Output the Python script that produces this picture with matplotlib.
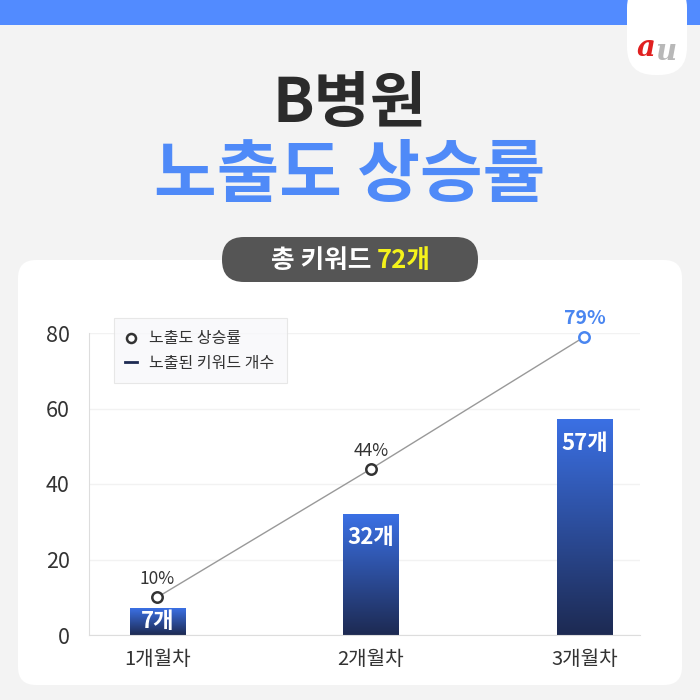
import numpy as np
import matplotlib.pyplot as plt
from matplotlib.patches import FancyBboxPatch, Rectangle
from matplotlib.lines import Line2D
from matplotlib.colors import LinearSegmentedColormap

plt.rcParams['font.family'] = ['Noto Sans CJK KR', 'DejaVu Sans']

# data
months = ['1개월차', '2개월차', '3개월차']
keywords = [7, 32, 57]          # 노출된 키워드 개수
rate = [10, 44, 79]             # 노출도 상승률 (%)
total_kw = 72
yticks = [0, 20, 40, 60, 80]

fig = plt.figure(figsize=(7, 7), dpi=100)
fig.patch.set_facecolor('#f3f3f3')

def fpatch(x, y, w, h, color, r=0.0):
    # box in pixel coords (top-left origin) -> figure fraction
    p = FancyBboxPatch((x / 700, 1 - (y + h) / 700), w / 700, h / 700,
                       boxstyle='round,pad=0,rounding_size=%f' % (r / 700),
                       transform=fig.transFigure, facecolor=color,
                       edgecolor='none', zorder=-1)
    fig.patches.append(p)

# top band + logo tab
fig.patches.append(Rectangle((0, 1 - 25 / 700), 1, 25 / 700, transform=fig.transFigure,
                             facecolor='#528bff', edgecolor='none', zorder=-1))
fpatch(627, -20, 60, 95, 'white', r=28)
fig.text(646 / 700, 1 - 48 / 700, 'a', color='#e02020', fontsize=21, fontweight='bold',
         style='italic', ha='center', va='center', family='DejaVu Serif')
fig.text(666 / 700, 1 - 52 / 700, 'u', color='#b8b8b8', fontsize=21, fontweight='bold',
         style='italic', ha='center', va='center', family='DejaVu Serif')

# titles
fig.text(0.5, 1 - 104 / 700, 'B병원', color='#2b2b2b', fontsize=44, fontweight='black',
         ha='center', va='center')
fig.text(0.5, 1 - 176 / 700, '노출도 상승률', color='#4f8af8', fontsize=49, fontweight='black',
         ha='center', va='center')

# white card
fpatch(18, 260, 664, 425, 'white', r=18)

# pill
fpatch(222, 237, 256, 45, '#555555', r=22)
fig.text(377 / 700, 1 - 260 / 700, '총 키워드 ', color='white', fontsize=18.5,
         fontweight='bold', ha='right', va='center')
fig.text(377 / 700, 1 - 260 / 700, f'{total_kw}개', color='#f4f21b', fontsize=18.5,
         fontweight='bold', ha='left', va='center')

# chart
ax = fig.add_axes([89 / 700, 65 / 700, 551 / 700, 302 / 700])
ax.set_facecolor('none')
x = np.arange(len(months))
bars = ax.bar(x, keywords, width=0.26, color='none', zorder=2)

cmap = LinearSegmentedColormap.from_list('bar', ['#1d2a52', '#3b70e4'])
grad = np.linspace(0, 1, 256).reshape(-1, 1)
for b, v in zip(bars, keywords):
    x0, w, h = b.get_x(), b.get_width(), b.get_height()
    ax.imshow(grad, extent=[x0, x0 + w, 0, h], origin='lower', aspect='auto',
              cmap=cmap, zorder=2)
    if h < 12:
        ax.text(x0 + w / 2, h / 2, f'{v}개', color='white', fontsize=16,
                fontweight='bold', ha='center', va='center', zorder=4)
    else:
        ax.annotate(f'{v}개', (x0 + w / 2, h), xytext=(0, -17), textcoords='offset points',
                    color='white', fontsize=16, fontweight='bold', ha='center',
                    va='center', zorder=4)

ax.plot(x, rate, color='#999999', lw=1, zorder=3)
for i, (xi, r) in enumerate(zip(x, rate)):
    last = i == len(rate) - 1
    ec = '#4a86f0' if last else '#333333'
    ax.plot(xi, r, 'o', ms=7.5, mfc='white', mec=ec, mew=1.8, zorder=5, clip_on=False)
    ax.annotate(f'{r}%', (xi, r), xytext=(0, 13), textcoords='offset points',
                ha='center', va='center', fontsize=14 if last else 12.5,
                color=ec if last else '#333333', fontweight='bold' if last else 'normal',
                zorder=5)

ax.set_xlim(-0.32, 2.26)
ax.set_ylim(0, 80)
ax.set_yticks(yticks)
ax.set_xticks(x)
ax.set_xticklabels(months)
ax.tick_params(axis='both', length=0, labelsize=14.5, colors='#333333')
ax.tick_params(axis='y', labelsize=15.5, pad=14)
ax.tick_params(axis='x', pad=10)
ax.grid(axis='y', color='#f2f2f2', lw=1, zorder=0)
for s in ['top', 'right']:
    ax.spines[s].set_visible(False)
ax.spines['left'].set_color('#dddddd')
ax.spines['bottom'].set_color('#dddddd')

handles = [Line2D([], [], marker='o', ls='none', ms=6.5, mfc='white', mec='#333333', mew=1.8),
           Line2D([], [], color='#1d2a52', lw=2)]
leg = ax.legend(handles, ['노출도 상승률', '노출된 키워드 개수'], loc='upper left',
                bbox_to_anchor=(0.03, 1.075), fontsize=11.5, frameon=True,
                fancybox=False, handlelength=0.7, handletextpad=0.8,
                borderpad=0.75, labelspacing=0.45)
leg.get_frame().set_facecolor('#f8f8fa')
leg.get_frame().set_edgecolor('#e2e2e2')
leg.get_frame().set_linewidth(0.8)
for txt in leg.get_texts():
    txt.set_color('#333333')

fig.savefig('out.png', dpi=100, facecolor=fig.get_facecolor())
